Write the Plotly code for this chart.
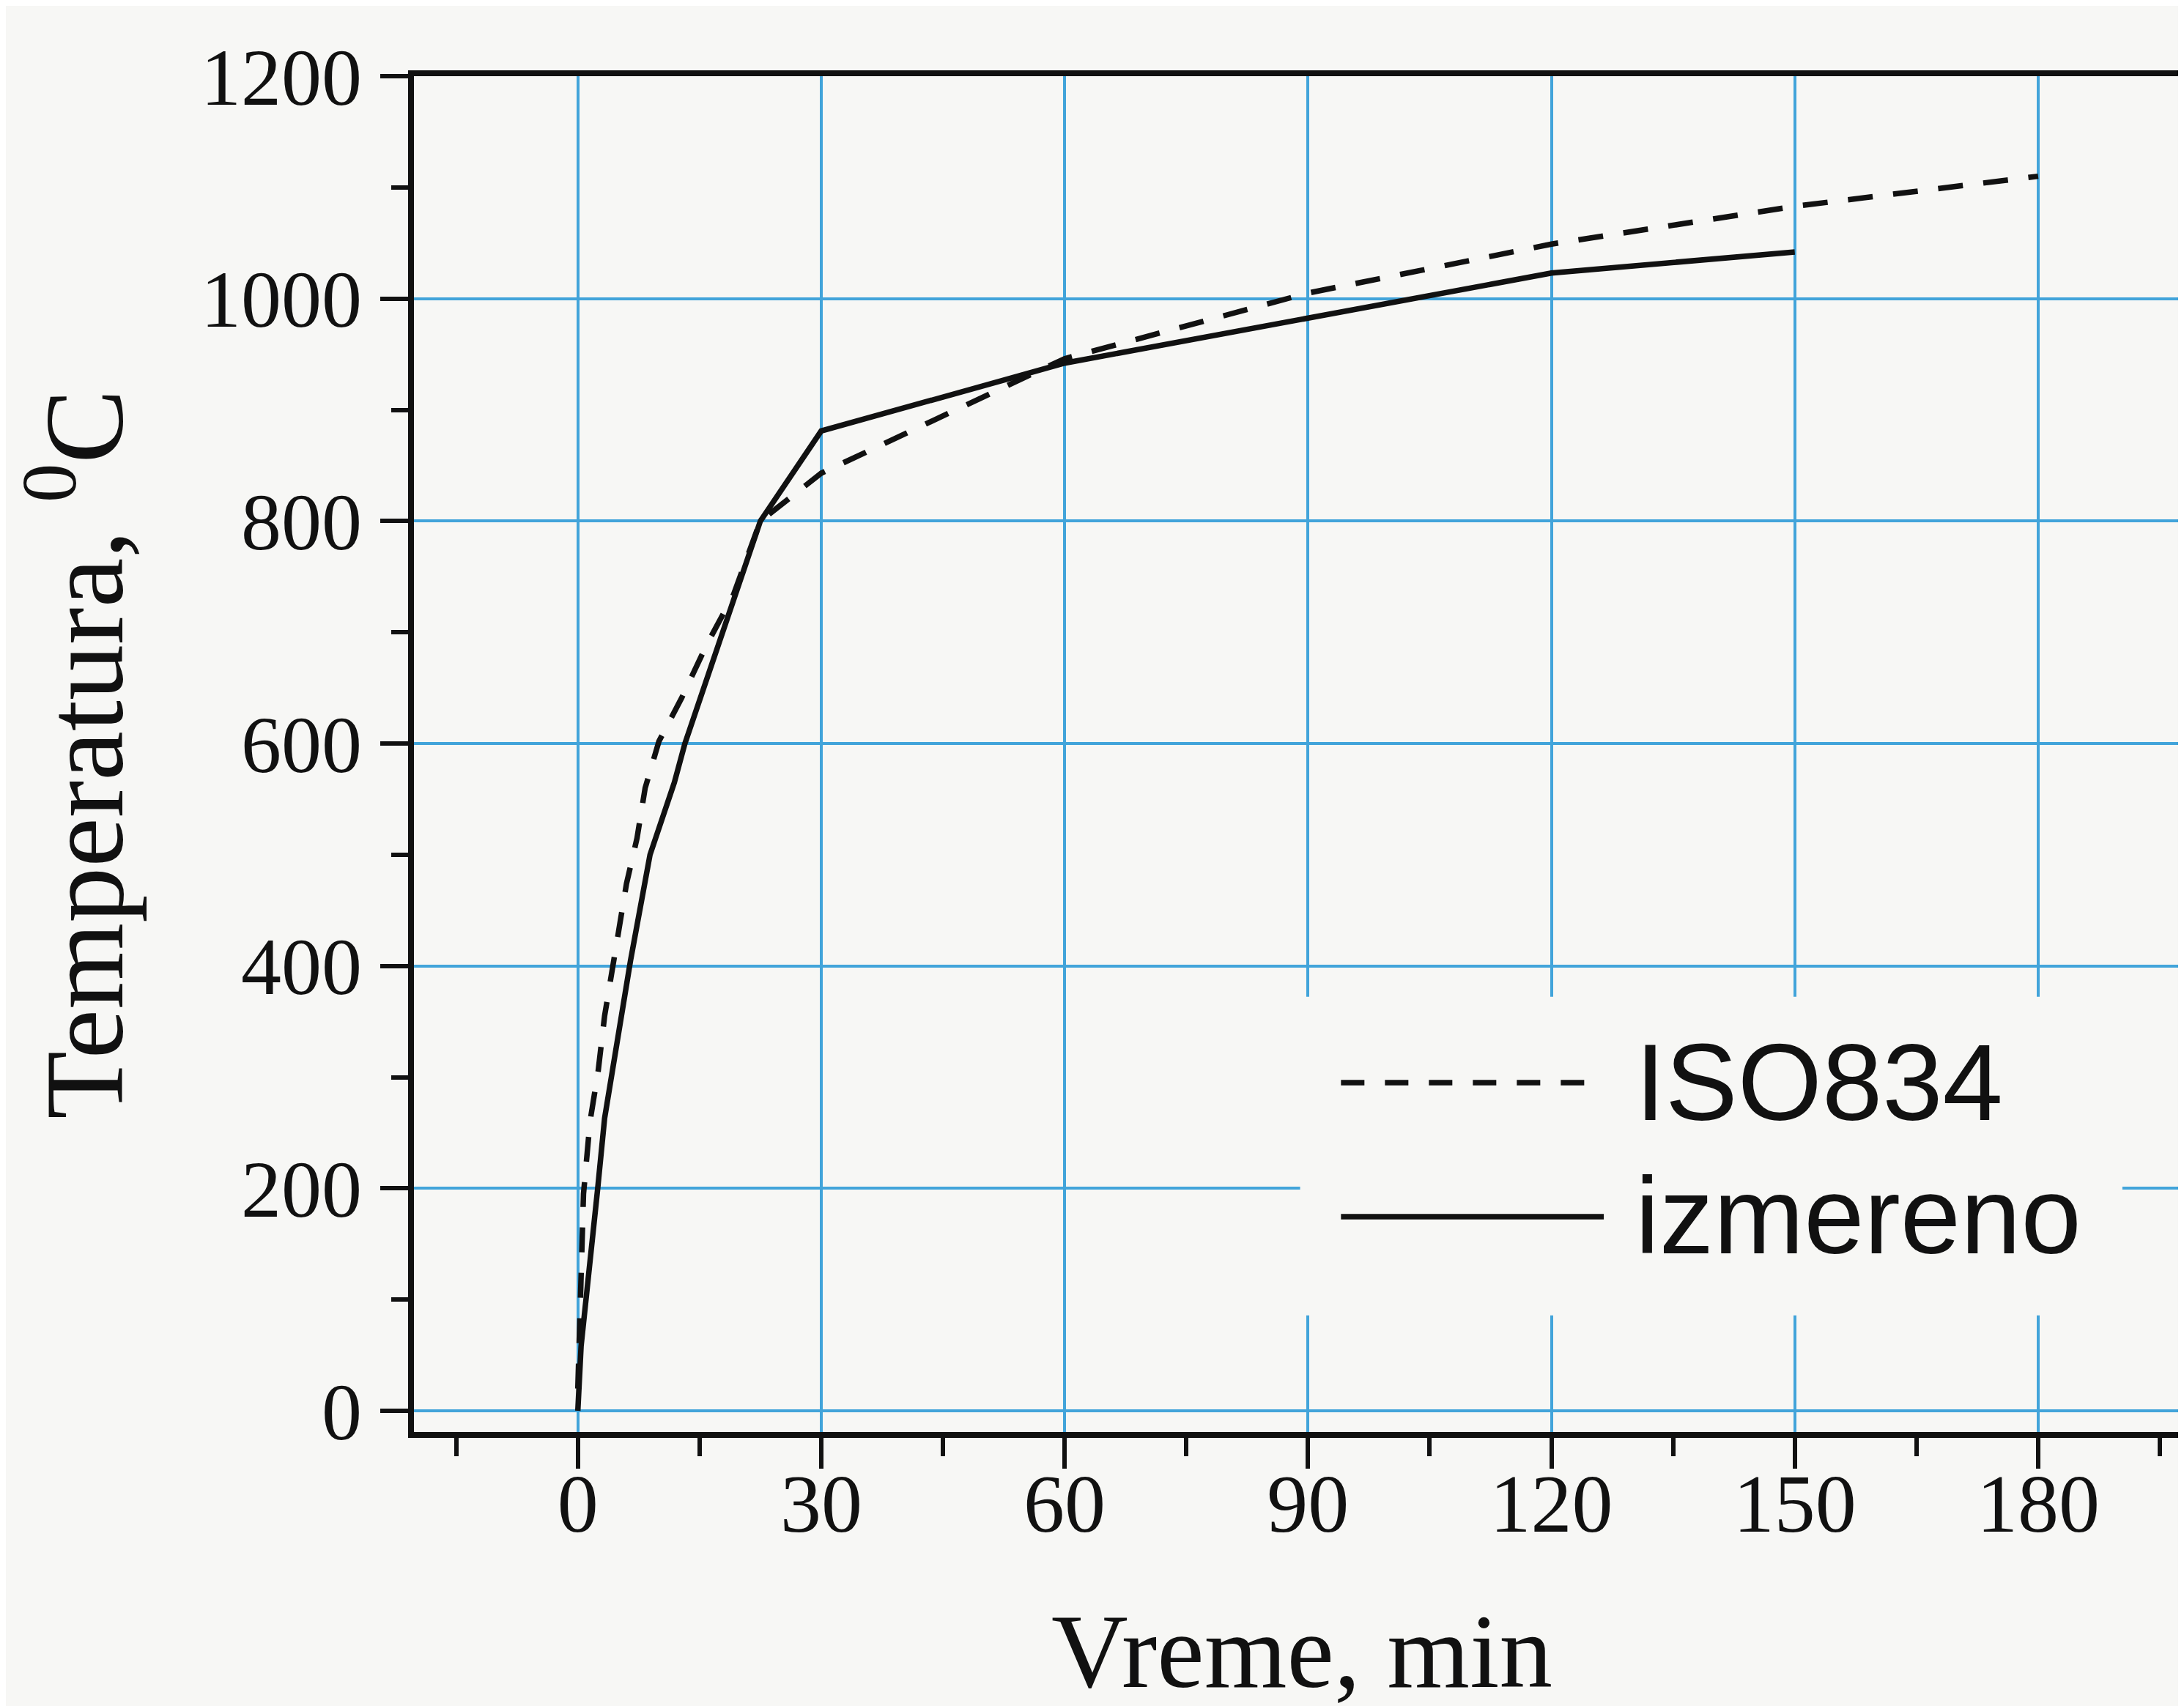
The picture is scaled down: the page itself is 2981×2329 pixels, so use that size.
import plotly.graph_objects as go

# ---- data ----
iso_time = [0, 0.7, 1.5, 2.5, 3.3, 4.9, 6, 7.3, 8.3, 10, 12.8, 15.9, 19.2, 22.5, 30, 60, 90, 120, 150, 180]
iso_temp = [20, 195, 260, 305, 355, 430, 474, 515, 560, 602, 641, 689, 734, 800, 843, 946, 1005, 1049, 1083, 1110]

meas_time = [0, 0.4, 2.45, 3.3, 6.5, 8.9, 11.9, 13.2, 22.5, 30, 60, 90, 120, 150]
meas_temp = [0, 58, 200, 263, 405, 500, 565, 600, 800, 881, 942, 982, 1023, 1042]

x_ticks = [0, 30, 60, 90, 120, 150, 180]
y_ticks = [0, 200, 400, 600, 800, 1000, 1200]

series_names = ["ISO834", "izmereno"]
x_title = "Vreme, min"
y_title = "Temperatura, <sup>0</sup>C"

X_RANGE = [-20.2, 198.7]
Y_RANGE = [-19.1, 1200]

BG = "#f7f7f5"
GRID = "#42a4da"
INK = "#111111"
SERIF = "Liberation Serif, Times New Roman, serif"
SANS = "Liberation Sans, Arial, sans-serif"

fig = go.Figure()
fig.add_trace(go.Scatter(x=meas_time, y=meas_temp, mode="lines", name=series_names[1],
                         line=dict(color=INK, width=7.5), showlegend=False))
fig.add_trace(go.Scatter(x=iso_time, y=iso_temp, mode="lines", name=series_names[0],
                         xaxis="x2", yaxis="y",
                         line=dict(color=INK, width=7.5, dash="34px,28px"), showlegend=False))

# legend (drawn manually so the line samples are long like in the original)
fig.add_shape(type="rect", xref="paper", yref="paper", x0=0.499, x1=0.962, y0=0.086, y1=0.321,
              fillcolor=BG, line=dict(width=0), layer="above")
fig.add_shape(type="line", xref="paper", yref="paper", x0=0.522, x1=0.670, y0=0.2577, y1=0.2577,
              line=dict(color=INK, width=7.5, dash="32px,28px"), layer="above")
fig.add_shape(type="line", xref="paper", yref="paper", x0=0.522, x1=0.670, y0=0.1588, y1=0.1588,
              line=dict(color=INK, width=7.5), layer="above")
for name, yy in zip(series_names, [0.2582, 0.1599]):
    fig.add_annotation(xref="paper", yref="paper", x=0.687, y=yy, text=name, showarrow=False,
                       xanchor="left", yanchor="middle", font=dict(family=SANS, size=148, color=INK))

fig.update_layout(
    width=2981, height=2329,
    margin=dict(l=557, r=0, t=96, b=382),
    paper_bgcolor=BG, plot_bgcolor=BG,
    showlegend=False,
    # tick marks, grid and frame on the primary x axis
    xaxis=dict(
        range=X_RANGE, tickvals=x_ticks, showticklabels=False,
        showgrid=True, gridcolor=GRID, gridwidth=4, zeroline=False,
        showline=True, linecolor=INK, linewidth=8, mirror=True,
        ticks="outside", ticklen=42, tickwidth=6, tickcolor=INK,
        minor=dict(dtick=15, tick0=-15, ticks="outside", ticklen=25, tickwidth=6,
                   tickcolor=INK, showgrid=False),
    ),
    # tick labels and title on an overlaid copy of the x axis (lets labels sit closer)
    xaxis2=dict(
        range=X_RANGE, overlaying="x", anchor="y", side="bottom", matches="x",
        tickvals=x_ticks, ticktext=[str(v) for v in x_ticks],
        showgrid=False, zeroline=False, showline=False, ticks="",
        tickfont=dict(family=SERIF, size=112, color=INK), ticklabelstandoff=23,
        title=dict(text=x_title, font=dict(family=SERIF, size=145, color=INK), standoff=87),
    ),
    yaxis=dict(
        range=Y_RANGE, tickvals=y_ticks, ticktext=[str(v) for v in y_ticks],
        showgrid=True, gridcolor=GRID, gridwidth=4, zeroline=False,
        showline=True, linecolor=INK, linewidth=8, mirror=False,
        ticks="outside", ticklen=38, tickwidth=6, tickcolor=INK,
        minor=dict(dtick=100, tick0=0, ticks="outside", ticklen=23, tickwidth=6,
                   tickcolor=INK, showgrid=False),
        tickfont=dict(family=SERIF, size=110, color=INK), ticklabelstandoff=3,
        title=dict(text=y_title, font=dict(family=SERIF, size=152, color=INK), standoff=80),
    ),
)

fig.write_html("out.html")
